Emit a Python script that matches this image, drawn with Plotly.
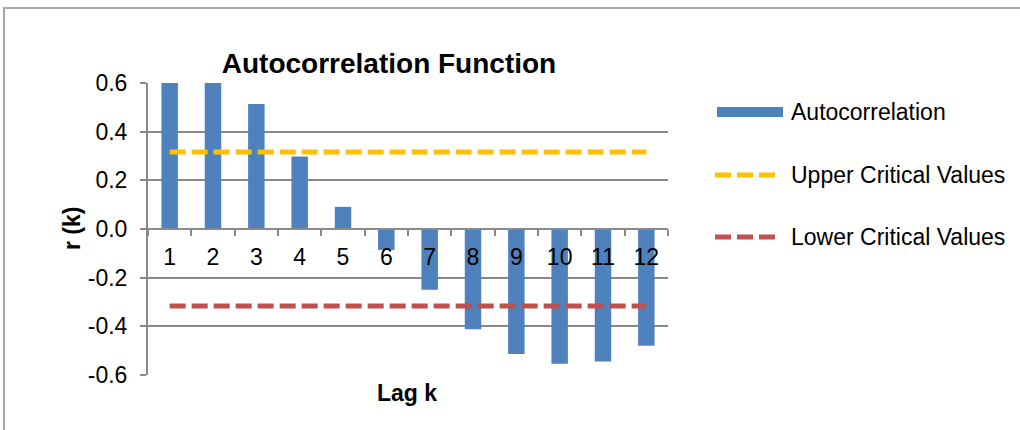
import plotly.graph_objects as go

# ---------------- data ----------------
lags = ["1", "2", "3", "4", "5", "6", "7", "8", "9", "10", "11", "12"]
autocorr = [0.84, 0.69, 0.514, 0.298, 0.091, -0.086, -0.250, -0.412, -0.514, -0.554, -0.545, -0.480]
upper_crit = [0.316] * 12
lower_crit = [-0.316] * 12
y_tick_vals = [-0.6, -0.4, -0.2, 0.0, 0.2, 0.4, 0.6]
y_tick_text = ["-0.6", "-0.4", "-0.2", "0.0", "0.2", "0.4", "0.6"]
series_names = ["Autocorrelation", "Upper Critical Values", "Lower Critical Values"]

# ---------------- styling ----------------
W, H = 1020, 430
ML, MR, MT, MB = 148, 352, 83, 55
PW, PH = W - ML - MR, H - MT - MB
FONT = "Liberation Sans, Arial, sans-serif"
BLUE, YELLOW, RED, GRID = "#4F81BD", "#FFC000", "#C0504D", "#898989"
DASH = "16px,6px"
FS = 23


def px(x):
    return (x - ML) / PW


def py(y):
    return (H - MB - y) / PH


fig = go.Figure()
fig.add_trace(go.Bar(x=lags, y=autocorr, name=series_names[0],
                     marker=dict(color=BLUE, line=dict(width=0)), cliponaxis=True))
fig.add_trace(go.Scatter(x=lags, y=upper_crit, name=series_names[1], mode="lines",
                         line=dict(color=YELLOW, width=5, dash=DASH)))
fig.add_trace(go.Scatter(x=lags, y=lower_crit, name=series_names[2], mode="lines",
                         line=dict(color=RED, width=5, dash=DASH)))

shapes = [
    # outer chart border
    dict(type="rect", xref="paper", yref="paper", x0=px(4), x1=px(1040), y0=py(8), y1=py(450),
         line=dict(color="#A6A6A6", width=2), fillcolor="rgba(0,0,0,0)", layer="below"),
    # legend symbols
    dict(type="rect", xref="paper", yref="paper", x0=px(717), x1=px(783), y0=py(117), y1=py(107),
         line=dict(width=0), fillcolor=BLUE),
    dict(type="line", xref="paper", yref="paper", x0=px(715), x1=px(779), y0=py(175), y1=py(175),
         line=dict(color=YELLOW, width=5, dash=DASH)),
    dict(type="line", xref="paper", yref="paper", x0=px(715), x1=px(779), y0=py(237), y1=py(237),
         line=dict(color=RED, width=5, dash=DASH)),
]

annotations = [
    dict(text=series_names[0], xref="paper", yref="paper", x=px(789), y=py(112),
         xanchor="left", yanchor="middle", showarrow=False, font=dict(size=FS, color="#000", family=FONT)),
    dict(text=series_names[1], xref="paper", yref="paper", x=px(789), y=py(175),
         xanchor="left", yanchor="middle", showarrow=False, font=dict(size=FS, color="#000", family=FONT)),
    dict(text=series_names[2], xref="paper", yref="paper", x=px(789), y=py(237),
         xanchor="left", yanchor="middle", showarrow=False, font=dict(size=FS, color="#000", family=FONT)),
    dict(text="<b>r (k)</b>", xref="paper", yref="paper", x=px(72), y=py(229), textangle=-90,
         xanchor="center", yanchor="middle", showarrow=False, font=dict(size=FS, color="#000", family=FONT)),
    dict(text="<b>Lag k</b>", xref="paper", yref="paper", x=px(407), y=py(393),
         xanchor="center", yanchor="middle", showarrow=False, font=dict(size=FS, color="#000", family=FONT)),
]

fig.update_layout(
    width=W, height=H,
    margin=dict(l=ML, r=MR, t=MT, b=MB, autoexpand=False),
    paper_bgcolor="white", plot_bgcolor="white",
    showlegend=False,
    bargap=0.62,
    font=dict(family=FONT, size=FS, color="#000"),
    title=dict(text="<b>Autocorrelation Function</b>", xref="container", yref="container",
               x=389 / W, y=1 - 63 / H, xanchor="center", yanchor="middle",
               font=dict(size=28, family=FONT, color="#000")),
    shapes=shapes,
    annotations=annotations,
)

fig.update_xaxes(type="category", range=[-0.5, 11.5], showgrid=False,
                 anchor="free", position=0.5,
                 showline=True, linecolor=GRID, linewidth=2,
                 ticks="outside", tickson="boundaries", ticklen=6, tickwidth=2, tickcolor=GRID,
                 ticklabelstandoff=7, tickfont=dict(size=FS, family=FONT, color="#000"),
                 fixedrange=True)
fig.update_yaxes(range=[-0.6, 0.6], tickvals=y_tick_vals, ticktext=y_tick_text,
                 showgrid=True, gridcolor=GRID, gridwidth=2, zeroline=False,
                 showline=True, linecolor=GRID, linewidth=2,
                 ticks="outside", ticklen=6, tickwidth=2, tickcolor=GRID,
                 ticklabelstandoff=8, tickfont=dict(size=FS, family=FONT, color="#000"),
                 fixedrange=True)

fig.write_html("out.html")
